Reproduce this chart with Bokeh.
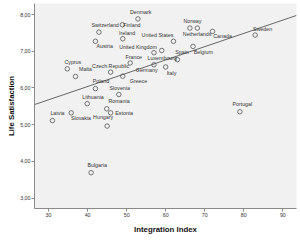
from bokeh.plotting import figure
from bokeh.models import ColumnDataSource, Range1d, FixedTicker
from bokeh.core.properties import value
from bokeh.embed import file_html
from bokeh.resources import INLINE

countries = ["Denmark", "Finland", "Switzerland", "Austria", "Ireland", "United States",
             "United Kingdom", "Luxembourg", "France", "Spain", "Belgium", "Norway",
             "Netherlands", "Canada", "Sweden", "Germany", "Italy", "Greece",
             "Czech Republic", "Cyprus", "Malta", "Poland", "Slovenia", "Lithuania",
             "Romania", "Estonia", "Latvia", "Slovakia", "Hungary", "Bulgaria", "Portugal"]
integration_index = [52.9, 48.9, 42.9, 42.0, 49.0, 62.0, 57.0, 59.0, 50.9, 63.0, 67.0, 66.2,
                     68.1, 72.0, 82.9, 57.0, 60.0, 49.0, 45.9, 34.8, 36.9, 42.0, 48.0, 39.9,
                     44.9, 45.9, 31.0, 35.8, 45.0, 40.9, 79.0]
life_satisfaction = [7.88, 7.72, 7.52, 7.27, 7.34, 7.27, 6.96, 7.02, 6.68, 6.77, 7.13, 7.63,
                     7.63, 7.54, 7.44, 6.63, 6.57, 6.32, 6.43, 6.52, 6.31, 5.98, 5.82, 5.57,
                     5.43, 5.32, 5.11, 5.32, 4.96, 3.69, 5.35]

# fitted regression line
fit_intercept = 4.59
fit_slope = 0.0362

x_ticks = [30, 40, 50, 60, 70, 80, 90]
y_ticks = [3, 4, 5, 6, 7, 8]
y_tick_labels = ["3,00", "4,00", "5,00", "6,00", "7,00", "8,00"]

# label placement (screen px offsets from the point), layout only
label_dx = [2.7, 9.5, 6.2, 9.3, 4.4, -16, -16, 0.5, 3.6, 4.6, 10.2, 2.5, -0.2, 10, 7.4,
            -7.3, 5.8, 15.7, 0, 5.5, 10, 5.5, 0.9, 5.8, 12.3, 13.5, 5, 9.8, -4, 6, 2.4]
label_dy = [-6.6, 0, -7.4, 5, -6, -6.4, -6, 7.3, -6.3, -7.6, 5.7, -7, 5.6, 5, -6,
            5.7, 5.8, 5, -5.7, -7.3, -7.7, -7.6, -6.3, -6.6, -7.6, 0, -8, 5, -8.7, -8, -7.3]

x0, x1 = 26.4, 93.5
y0, y1 = 2.714, 8.30

p = figure(width=300, height=240, output_backend="svg", toolbar_location=None,
           x_range=Range1d(x0, x1), y_range=Range1d(y0, y1),
           min_border_left=34, min_border_right=4, min_border_top=3, min_border_bottom=32)
p.background_fill_color = "#f1f1f1"
p.border_fill_color = "white"
p.outline_line_color = None
p.xgrid.visible = False
p.ygrid.visible = False

FONT = "Liberation Sans"

p.xaxis.ticker = FixedTicker(ticks=x_ticks)
p.yaxis.ticker = FixedTicker(ticks=y_ticks)
p.yaxis.major_label_overrides = {t: l for t, l in zip(y_ticks, y_tick_labels)}
for ax in (p.xaxis, p.yaxis):
    ax.axis_line_color = "#8a8a8a"
    ax.major_tick_line_color = "#8a8a8a"
    ax.major_tick_in = 0
    ax.major_tick_out = 3
    ax.minor_tick_line_color = None
    ax.major_label_text_font = FONT
    ax.major_label_text_font_size = "5.3px"
    ax.major_label_text_color = "#333333"
    ax.major_label_standoff = 1
    ax.axis_label_text_font = FONT
    ax.axis_label_text_font_size = "7.8px"
    ax.axis_label_text_font_style = "bold"
    ax.axis_label_text_color = "#111111"
p.xaxis.axis_label = "Integration Index"
p.yaxis.axis_label = "Life Satisfaction"
p.xaxis.axis_label_standoff = 5
p.yaxis.axis_label_standoff = 1

# regression line across the full x range
p.line(x=[x0, x1], y=[fit_intercept + fit_slope * x0, fit_intercept + fit_slope * x1],
       line_color="#666666", line_width=1)

src = ColumnDataSource(dict(x=integration_index, y=life_satisfaction, name=countries,
                            dx=label_dx, dy=label_dy))
p.scatter(x="x", y="y", source=src, marker="circle", size=4.5, fill_color=None,
          line_color="#555555", line_width=0.8)
p.text(x="x", y="y", text="name", source=src, x_offset="dx", y_offset="dy",
       text_font=value(FONT), text_font_size="5.3px", text_color="#333333",
       text_align="center", text_baseline="middle")

open("out.html", "w").write(file_html(p, INLINE))
